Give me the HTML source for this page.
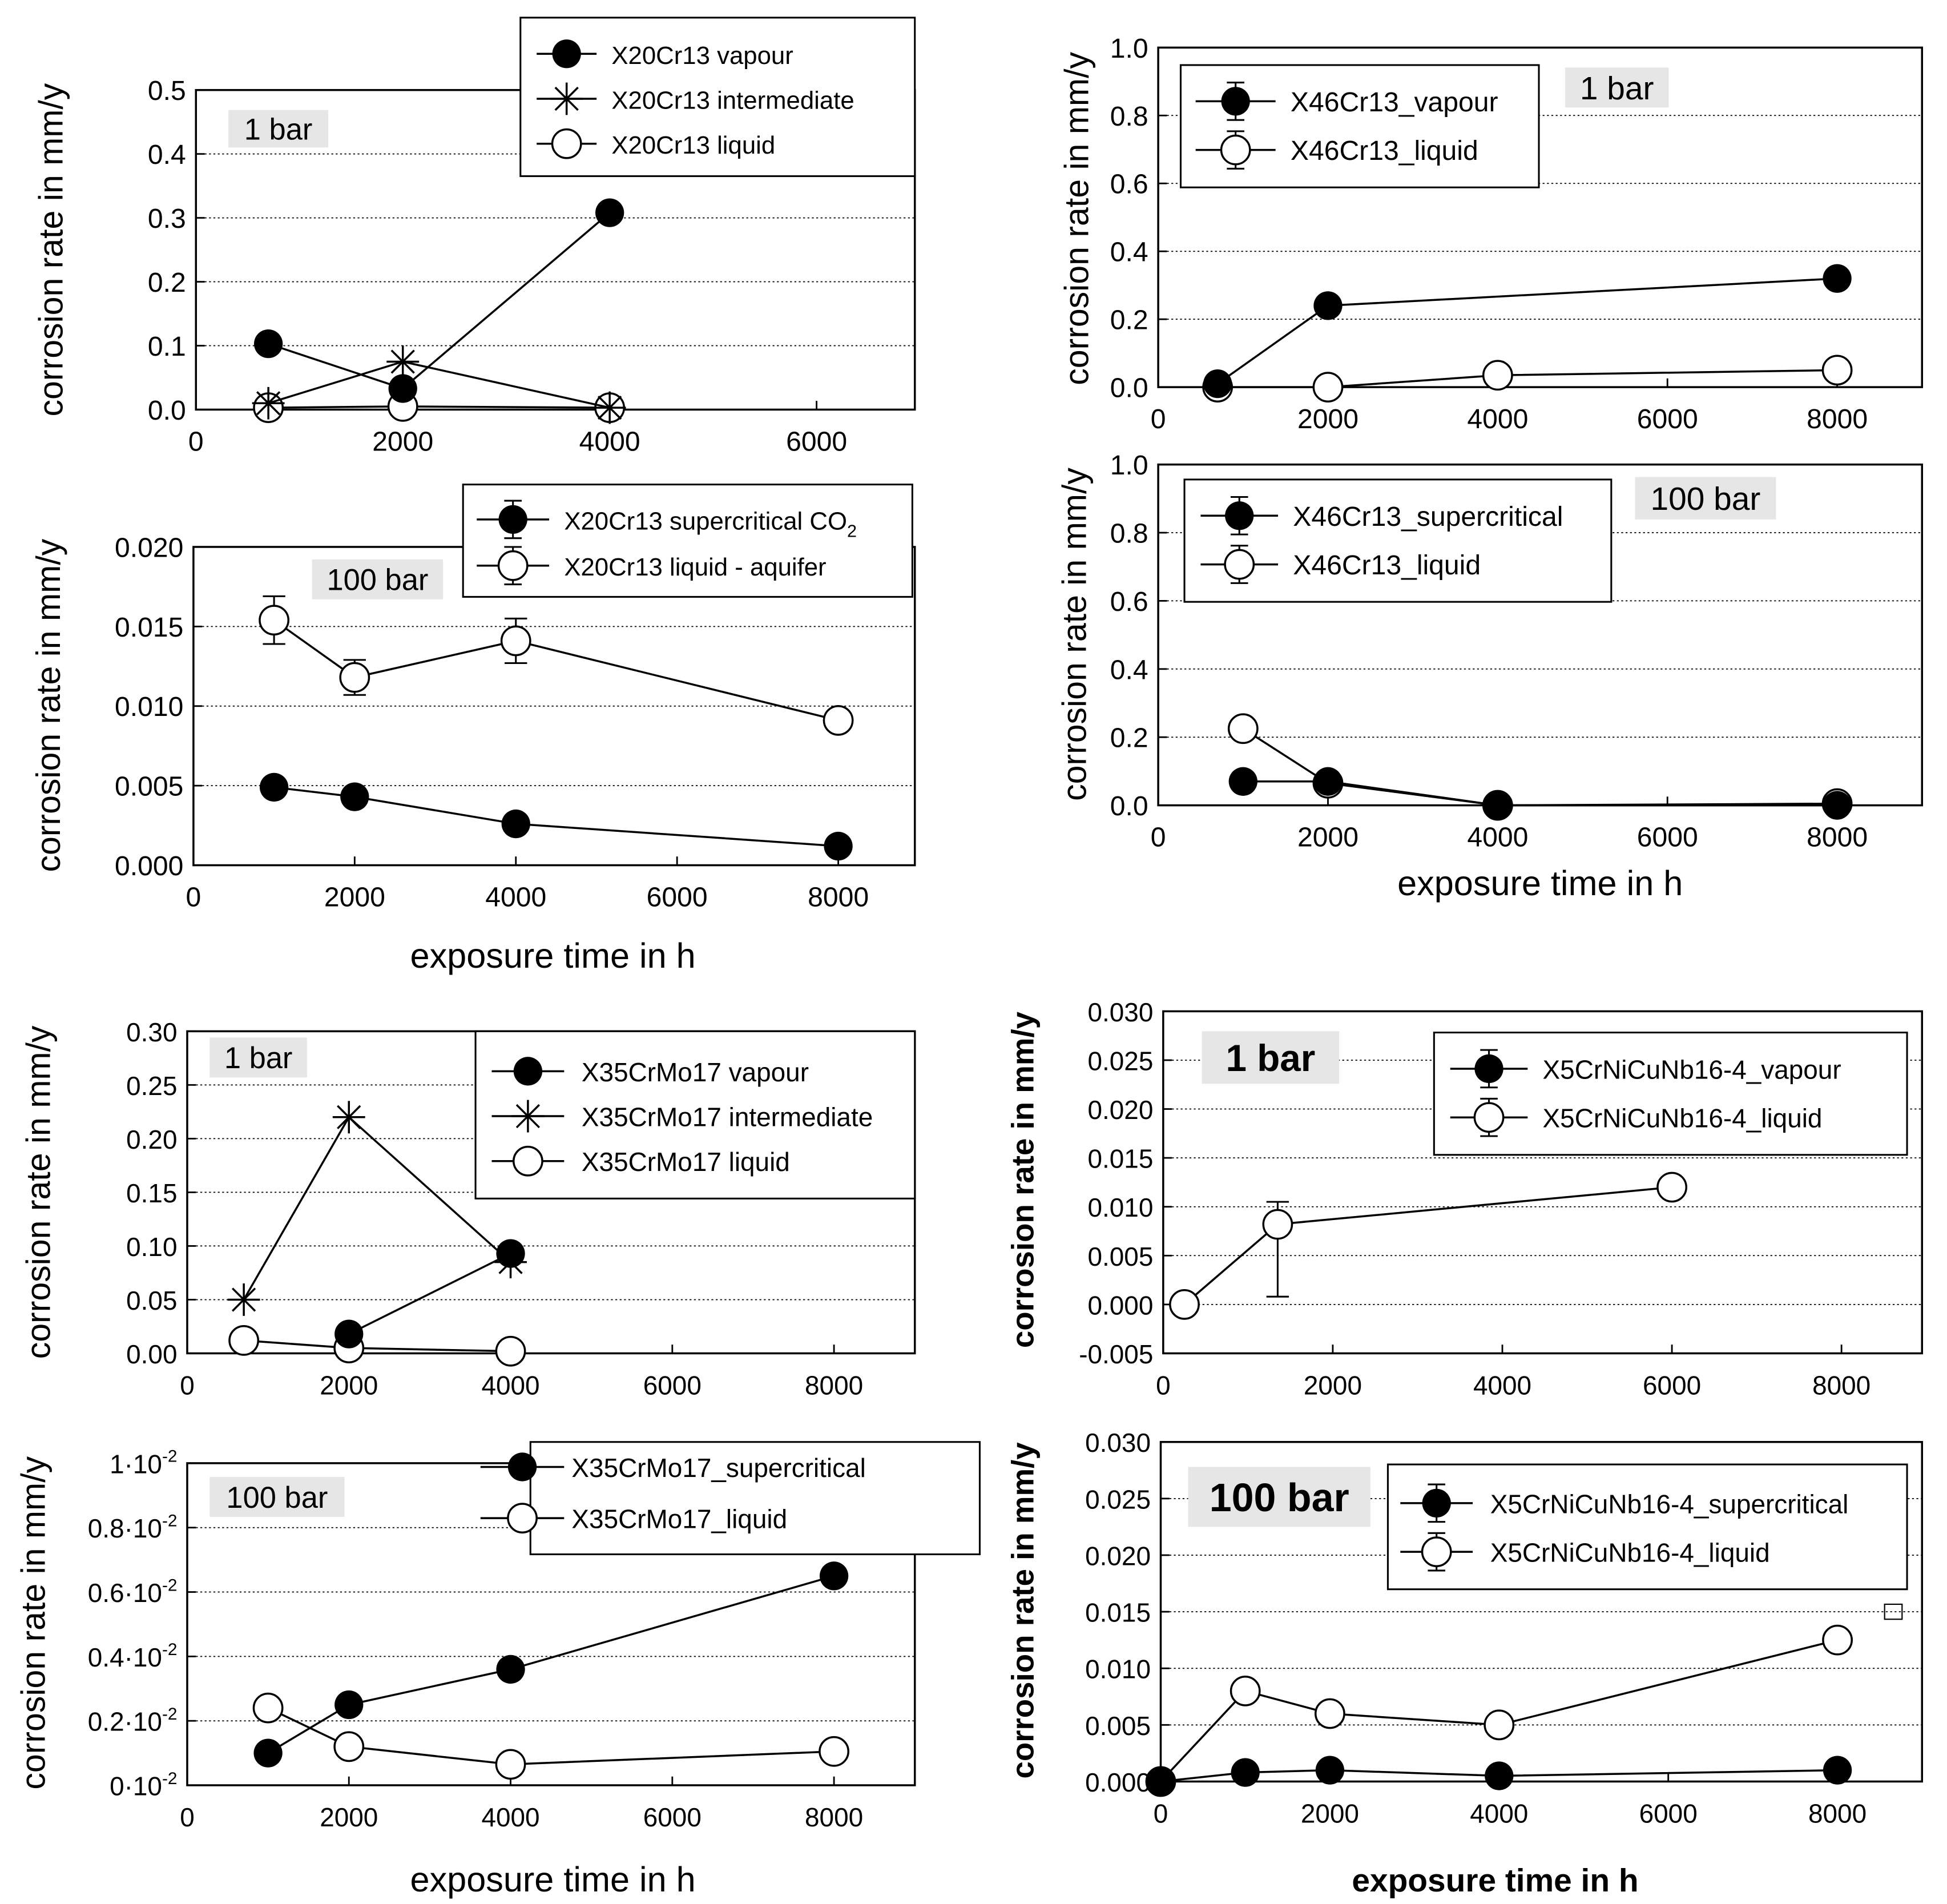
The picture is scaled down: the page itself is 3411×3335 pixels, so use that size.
<!DOCTYPE html>
<html><head><meta charset="utf-8"><style>
html,body{margin:0;padding:0;background:#fff}
svg{display:block}
text{font-family:"Liberation Sans",Arial,sans-serif;fill:#000}
</style></head><body>
<svg id="fig" width="3411" height="3335" viewBox="0 0 1560 1525" xmlns="http://www.w3.org/2000/svg"></svg>
<script>
// ---- data ----
const p1_vap_x=[700,2000,4000], p1_vap_y=[0.103,0.033,0.308];
const p1_int_x=[700,2000,4000], p1_int_y=[0.010,0.075,0.003];
const p1_liq_x=[700,2000,4000], p1_liq_y=[0.003,0.005,0.003];
const p2_vap_x=[700,2000,8000], p2_vap_y=[0.01,0.24,0.32];
const p2_liq_x=[700,2000,4000,8000], p2_liq_y=[0.0,0.0,0.035,0.05];
const p3_sc_x=[1000,2000,4000,8000], p3_sc_y=[0.0049,0.0043,0.0026,0.0012];
const p3_liq_x=[1000,2000,4000,8000], p3_liq_y=[0.0154,0.0118,0.0141,0.0091];
const p3_liq_err=[0.0015,0.0011,0.0014,0.0006];
const p4_sc_x=[1000,2000,4000,8000], p4_sc_y=[0.07,0.07,0.0,0.0];
const p4_liq_x=[1000,2000,4000,8000], p4_liq_y=[0.225,0.065,0.0,0.005];
const p4_liq_err=[0.02,0,0,0];
const p5_vap_x=[2000,4000], p5_vap_y=[0.018,0.093];
const p5_int_x=[700,2000,4000], p5_int_y=[0.05,0.22,0.085];
const p5_liq_x=[700,2000,4000], p5_liq_y=[0.012,0.005,0.002];
const p6_liq_x=[250,1350,6000], p6_liq_y=[0.0,0.0082,0.012];
const p6_liq_errHi=[0,0.0023,0.0006];
const p6_liq_errLo=[0,0.0074,0.0006];
const p7_sc_x=[1000,2000,4000,8000], p7_sc_y=[0.10,0.25,0.36,0.65];
const p7_liq_x=[1000,2000,4000,8000], p7_liq_y=[0.24,0.12,0.065,0.105];
const p8_sc_x=[0,1000,2000,4000,8000], p8_sc_y=[0.0,0.0008,0.001,0.0005,0.001];
const p8_liq_x=[0,1000,2000,4000,8000], p8_liq_y=[0.0,0.008,0.006,0.005,0.0125];
const yt1=["0.0","0.1","0.2","0.3","0.4","0.5"], xt1=["0","2000","4000","6000"];
const yt2=["0.0","0.2","0.4","0.6","0.8","1.0"], xt2=["0","2000","4000","6000","8000"];
const yt3=["0.000","0.005","0.010","0.015","0.020"];
const yt5=["0.00","0.05","0.10","0.15","0.20","0.25","0.30"];
const yt6=["-0.005","0.000","0.005","0.010","0.015","0.020","0.025","0.030"];
const yt7=["0","0.2","0.4","0.6","0.8","1"];
const yt8=["0.000","0.005","0.010","0.015","0.020","0.025","0.030"];

const svg=document.getElementById('fig');
const NS='http://www.w3.org/2000/svg';
function el(tag,attrs,parent){const e=document.createElementNS(NS,tag);for(const k in attrs)e.setAttribute(k,attrs[k]);(parent||svg).appendChild(e);return e;}
function txt(s,x,y,size,anchor,parent,bold){const t=el('text',{x:x,y:y,'font-size':size,'text-anchor':anchor||'start'},parent);if(bold)t.setAttribute('font-weight','bold');t.textContent=s;return t;}

function marker(type,x,y,g){
  if(type==='fill'){const c=el('circle',{cx:x,cy:y,r:11.5,fill:'#000'},g);}
  else if(type==='open'){const c=el('circle',{cx:x,cy:y,r:11.5,fill:'#fff',stroke:'#000','stroke-width':1.6},g);}
  else if(type==='star'){const r=13;const d=`M${x-r},${y}H${x+r}M${x},${y-r}V${y+r}M${x-r*0.7},${y-r*0.7}L${x+r*0.7},${y+r*0.7}M${x-r*0.7},${y+r*0.7}L${x+r*0.7},${y-r*0.7}`;const p=el('path',{d:d,stroke:'#000','stroke-width':1.6,fill:'none'},g);}
}

function panel(cfg){
  const g=el('g',{});
  
  
  const X=v=>cfg.px0+(v-cfg.xmin)/(cfg.xmax-cfg.xmin)*(cfg.px1-cfg.px0);
  const Y=v=>cfg.py0-(v-cfg.ymin)/(cfg.ymax-cfg.ymin)*(cfg.py0-cfg.py1);
  cfg.yticks.forEach((lab,i)=>{
    const v=cfg.ymin+i*cfg.ystep;const y=Y(v);
    if(i>0&&i<cfg.yticks.length-1){const l=el('line',{x1:cfg.px0,x2:cfg.px1,y1:y,y2:y,stroke:'#000','stroke-width':0.8,'stroke-dasharray':'1.5,2'},g);}
    el('line',{x1:cfg.px0,x2:cfg.px0+7,y1:y,y2:y,stroke:'#000','stroke-width':1.3},g);
    let t;
    if(cfg.sci){t=el('text',{x:cfg.px0-8,y:y+8,'font-size':cfg.fs,'text-anchor':'end'},g);t.textContent=lab+'·10';const s=el('tspan',{dy:-9,'font-size':cfg.fs*0.65},t);s.textContent='-2';}
    else t=txt(lab,cfg.px0-8,y+8,cfg.fs,'end',g);
    
  });
  cfg.xticks.forEach((lab,i)=>{
    const x=X(i*cfg.xstep);
    el('line',{x1:x,x2:x,y1:cfg.py0,y2:cfg.py0-7,stroke:'#000','stroke-width':1.3},g);
    const t=txt(lab,x,cfg.py0+33,cfg.fs,'middle',g);
    
  });
  const fr=el('rect',{x:cfg.px0,y:cfg.py1,width:cfg.px1-cfg.px0,height:cfg.py0-cfg.py1,fill:'none',stroke:'#000','stroke-width':1.6},g);
  
  cfg.series.forEach(s=>{
    const sg=el('g',{},g);
    
    
    const pts=s.x.map((v,i)=>X(v)+','+Y(s.y[i])).join(' ');
    el('polyline',{points:pts,fill:'none',stroke:'#000','stroke-width':1.6},sg);
    const hi=s.errHi||s.err, lo=s.errLo||s.err;
    if(hi)s.x.forEach((v,i)=>{if(!hi[i])return;const x=X(v),a=Y(s.y[i]+hi[i]),b=Y(s.y[i]-lo[i]);
      el('path',{d:`M${x},${a}V${b}M${x-9},${a}H${x+9}M${x-9},${b}H${x+9}`,stroke:'#000','stroke-width':1.4,fill:'none'},sg);});
    s.x.forEach((v,i)=>marker(s.type,X(v),Y(s.y[i]),sg));
  });
  const lb=el('g',{},g);
  el('rect',{x:cfg.lab[0],y:cfg.lab[1],width:cfg.lab[2],height:cfg.lab[3],fill:'#e6e6e6'},lb);
  txt(cfg.lab[4],cfg.lab[0]+cfg.lab[2]/2,cfg.lab[1]+cfg.lab[3]/2+cfg.lab[5]*0.36,cfg.lab[5],'middle',lb,cfg.lab[6]);
  const L=cfg.leg;const lg=el('g',{},g);
  el('rect',{x:L.x,y:L.y,width:L.w,height:L.h,fill:'#fff',stroke:'#000','stroke-width':1.4},lg);
  L.items.forEach((it,i)=>{
    const yy=L.y+L.first+i*L.dy;const ie=el('g',{},lg);
    el('line',{x1:L.lx0,x2:L.lx1,y1:yy,y2:yy,stroke:'#000','stroke-width':1.6},ie);
    const mx=(L.lx0+L.lx1)/2;
    if(it.err)el('path',{d:`M${mx},${yy-15}V${yy+15}M${mx-7},${yy-15}H${mx+7}M${mx-7},${yy+15}H${mx+7}`,stroke:'#000','stroke-width':1.4,fill:'none'},ie);
    marker(it.type,mx,yy,ie);
    const t=txt(it.label,L.tx,yy+8,L.fs,'start',ie);
    if(it.sub){const s=el('tspan',{dy:6,'font-size':L.fs*0.7},t);s.textContent=it.sub;}
  });
  const yt=el('text',{x:0,y:0,'font-size':cfg.tfs,'text-anchor':'middle',transform:`translate(${cfg.yt[0]},${cfg.yt[1]}) rotate(-90)`},g);
  if(cfg.bold)yt.setAttribute('font-weight','bold');
  yt.textContent='corrosion rate in mm/y';
  if(cfg.xt){const xt=txt('exposure time in h',cfg.xt[0],cfg.xt[1],cfg.tfs+1,'middle',g,cfg.bold);}
}

panel({name:'panel-x20cr13-1bar',px0:157,px1:733,xmin:0,xmax:6950,xstep:2000,xticks:xt1,py0:328,py1:72,ymin:0,ymax:0.5,ystep:0.1,yticks:yt1,fs:22,tfs:27,yt:[50,200],
 series:[{name:'series-liquid',type:'open',x:p1_liq_x,y:p1_liq_y},{name:'series-vapour',type:'fill',x:p1_vap_x,y:p1_vap_y},{name:'series-intermediate',type:'star',x:p1_int_x,y:p1_int_y}],
 lab:[183,88,80,30,'1 bar',24],
 leg:{x:417,y:14,w:316,h:127,first:29,dy:36,lx0:430,lx1:478,tx:490,fs:20,items:[{type:'fill',label:'X20Cr13 vapour'},{type:'star',label:'X20Cr13 intermediate'},{type:'open',label:'X20Cr13 liquid'}]}});

panel({name:'panel-x46cr13-1bar',px0:928,px1:1540,xmin:0,xmax:9000,xstep:2000,xticks:xt2,py0:310,py1:38,ymin:0,ymax:1.0,ystep:0.2,yticks:yt2,fs:22,tfs:27,yt:[872,175],
 series:[{name:'series-liquid',type:'open',x:p2_liq_x,y:p2_liq_y},{name:'series-vapour',type:'fill',x:p2_vap_x,y:p2_vap_y}],
 lab:[1254,54,83,32,'1 bar',26],
 leg:{x:946,y:52,w:287,h:98,first:29,dy:39,lx0:958,lx1:1022,tx:1034,fs:22,items:[{type:'fill',err:1,label:'X46Cr13_vapour'},{type:'open',err:1,label:'X46Cr13_liquid'}]}});

panel({name:'panel-x20cr13-100bar',px0:155,px1:733,xmin:0,xmax:8950,xstep:2000,xticks:xt2,py0:693,py1:438,ymin:0,ymax:0.02,ystep:0.005,yticks:yt3,fs:22,tfs:27,yt:[48,565],xt:[443,775],
 series:[{name:'series-supercritical',type:'fill',x:p3_sc_x,y:p3_sc_y},{name:'series-liquid-aquifer',type:'open',x:p3_liq_x,y:p3_liq_y,err:p3_liq_err}],
 lab:[250,448,105,32,'100 bar',24],
 leg:{x:371,y:388,w:360,h:90,first:28,dy:37,lx0:382,lx1:440,tx:452,fs:20,items:[{type:'fill',err:1,label:'X20Cr13 supercritical CO',sub:'2'},{type:'open',err:1,label:'X20Cr13 liquid - aquifer'}]}});

panel({name:'panel-x46cr13-100bar',px0:928,px1:1540,xmin:0,xmax:9000,xstep:2000,xticks:xt2,py0:645,py1:372,ymin:0,ymax:1.0,ystep:0.2,yticks:yt2,fs:22,tfs:27,yt:[870,508],xt:[1234,717],
 series:[{name:'series-liquid',type:'open',x:p4_liq_x,y:p4_liq_y,err:p4_liq_err},{name:'series-supercritical',type:'fill',x:p4_sc_x,y:p4_sc_y}],
 lab:[1310,382,113,34,'100 bar',26],
 leg:{x:949,y:384,w:342,h:98,first:29,dy:39,lx0:962,lx1:1024,tx:1036,fs:22,items:[{type:'fill',err:1,label:'X46Cr13_supercritical'},{type:'open',err:1,label:'X46Cr13_liquid'}]}});

panel({name:'panel-x35crmo17-1bar',px0:150,px1:733,xmin:0,xmax:9000,xstep:2000,xticks:xt2,py0:1084,py1:826,ymin:0,ymax:0.3,ystep:0.05,yticks:yt5,fs:21,tfs:27,yt:[40,955],
 series:[{name:'series-liquid',type:'open',x:p5_liq_x,y:p5_liq_y},{name:'series-vapour',type:'fill',x:p5_vap_x,y:p5_vap_y},{name:'series-intermediate',type:'star',x:p5_int_x,y:p5_int_y}],
 lab:[168,831,78,32,'1 bar',24],
 leg:{x:381,y:826,w:352,h:134,first:32,dy:36,lx0:394,lx1:452,tx:466,fs:21,items:[{type:'fill',label:'X35CrMo17 vapour'},{type:'star',label:'X35CrMo17 intermediate'},{type:'open',label:'X35CrMo17 liquid'}]}});

panel({name:'panel-x5crnicunb-1bar',px0:932,px1:1540,xmin:0,xmax:8950,xstep:2000,xticks:xt2,py0:1084,py1:810,ymin:-0.005,ymax:0.03,ystep:0.005,yticks:yt6,fs:21,tfs:25,bold:1,yt:[828,945],
 series:[{name:'series-liquid',type:'open',x:p6_liq_x,y:p6_liq_y,errHi:p6_liq_errHi,errLo:p6_liq_errLo}],
 lab:[963,826,110,42,'1 bar',30,1],
 leg:{x:1149,y:827,w:379,h:98,first:29,dy:39,lx0:1162,lx1:1224,tx:1236,fs:21,items:[{type:'fill',err:1,label:'X5CrNiCuNb16-4_vapour'},{type:'open',err:1,label:'X5CrNiCuNb16-4_liquid'}]}});

panel({name:'panel-x35crmo17-100bar',px0:150,px1:733,xmin:0,xmax:9000,xstep:2000,xticks:xt2,py0:1430,py1:1172,ymin:0,ymax:1.0,ystep:0.2,yticks:yt7,sci:1,fs:21,tfs:27,yt:[36,1300],xt:[443,1515],
 series:[{name:'series-supercritical',type:'fill',x:p7_sc_x,y:p7_sc_y},{name:'series-liquid',type:'open',x:p7_liq_x,y:p7_liq_y}],
 lab:[168,1183,108,32,'100 bar',24],
 leg:{x:425,y:1155,w:360,h:90,first:20,dy:41,lx0:385,lx1:452,tx:458,fs:21,items:[{type:'fill',label:'X35CrMo17_supercritical'},{type:'open',label:'X35CrMo17_liquid'}]}});

panel({name:'panel-x5crnicunb-100bar',px0:930,px1:1540,xmin:0,xmax:9000,xstep:2000,xticks:xt2,py0:1427,py1:1155,ymin:0,ymax:0.03,ystep:0.005,yticks:yt8,fs:21,tfs:25,bold:1,yt:[828,1290],xt:[1198,1515],
 series:[{name:'series-liquid',type:'open',x:p8_liq_x,y:p8_liq_y},{name:'series-supercritical',type:'fill',x:p8_sc_x,y:p8_sc_y}],
 lab:[952,1175,146,48,'100 bar',32,1],
 leg:{x:1112,y:1173,w:416,h:100,first:31,dy:39,lx0:1122,lx1:1180,tx:1194,fs:21,items:[{type:'fill',err:1,label:'X5CrNiCuNb16-4_supercritical'},{type:'open',err:1,label:'X5CrNiCuNb16-4_liquid'}]}});
const sq=el('rect',{x:1510,y:1285,width:14,height:12,fill:'none',stroke:'#000','stroke-width':1});


</script>
</body></html>
